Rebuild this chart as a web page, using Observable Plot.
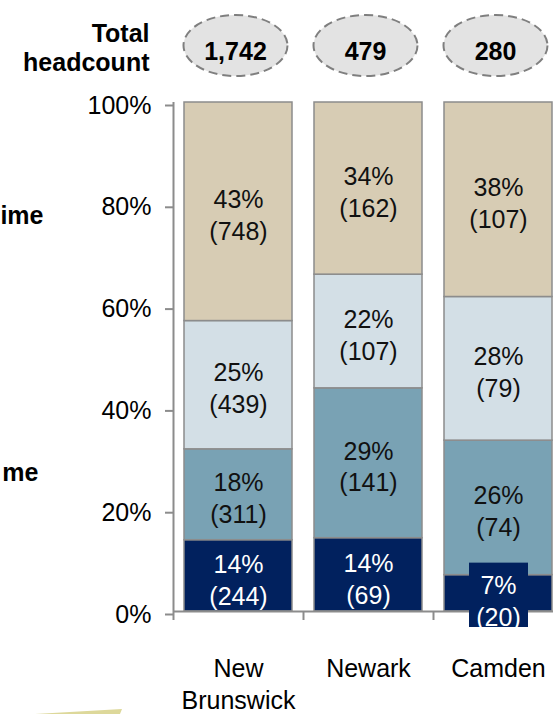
<!DOCTYPE html>
<html>
<head>
<meta charset="utf-8">
<script src="https://cdn.jsdelivr.net/npm/d3@7"></script>
<script src="https://cdn.jsdelivr.net/npm/@observablehq/plot@0.6"></script>
<style>
  html, body { margin: 0; padding: 0; background: #fff; }
  body { width: 553px; height: 714px; overflow: hidden; position: relative; }
  #chart svg { display: block; max-width: none !important; width: 563px !important; height: 714px !important; }
  #deco { position: absolute; left: 0; top: 0; pointer-events: none; }
</style>
</head>
<body>
<div id="chart"></div>
<svg id="deco" width="553" height="714"><polygon points="35,714 122,709 120,714" fill="#ddd89a"></polygon></svg>
<script>
// ---- data ----
const campuses = ["New Brunswick", "Newark", "Camden"];
const segments = ["Group 1", "Group 2", "Group 3", "Group 4"]; // bottom to top
const countsNewBrunswick = [244, 311, 439, 748];
const countsNewark = [69, 141, 107, 162];
const countsCamden = [20, 74, 79, 107];
const totals = [1742, 479, 280];
const yTicks = [0, 0.2, 0.4, 0.6, 0.8, 1];
const sideLabels = ["ime", "me"];
const headcountTitle = "Total\nheadcount";

// ---- styling ----
const segmentColors = ["#01215e", "#79a2b4", "#d3dfe6", "#d7ccb4"];
const gridGray = "#8c8c8c";
const font = "'Liberation Sans', Arial, sans-serif";

const countsByCampus = [countsNewBrunswick, countsNewark, countsCamden];
const rows = [];
campuses.forEach((c, i) => {
  let cum = 0;
  const total = totals[i];
  segments.forEach((s, j) => {
    const count = countsByCampus[i][j];
    const lo = cum / total;
    cum += count;
    const hi = cum / total;
    rows.push({campus: c, segment: s, count, total, lo, hi, mid: (lo + hi) / 2, share: count / total});
  });
});
const totalRows = campuses.map((c, i) => ({campus: c, total: totals[i]}));
const label = d => Math.round(d.share * 100) + "%\n(" + d.count + ")";
const small = d => d.share < 0.1;
const dark = d => d.segment === segments[0];

const ellipse = {
  draw(ctx) {
    const rx = 52, ry = 30.5, k = 0.5523;
    ctx.moveTo(rx, 0);
    ctx.bezierCurveTo(rx, k * ry, k * rx, ry, 0, ry);
    ctx.bezierCurveTo(-k * rx, ry, -rx, k * ry, -rx, 0);
    ctx.bezierCurveTo(-rx, -k * ry, -k * rx, -ry, 0, -ry);
    ctx.bezierCurveTo(k * rx, -ry, rx, -k * ry, rx, 0);
    ctx.closePath();
  }
};

const chart = Plot.plot({
  width: 563,
  height: 714,
  marginLeft: 173,
  marginRight: 0,
  marginTop: 102,
  marginBottom: 103,
  style: {fontFamily: font, fontSize: "25px", background: "#fff", color: "#000", overflow: "visible"},
  x: {domain: campuses, paddingInner: 0.17, paddingOuter: 0.085, axis: null},
  y: {domain: [0, 1], axis: null},
  color: {domain: segments, range: segmentColors},
  marks: [
    Plot.barY(rows, {x: "campus", y1: "lo", y2: "hi", fill: "segment", stroke: gridGray, strokeWidth: 1.5}),
    // y axis line and ticks
    Plot.ruleX([campuses[0]], {x: d => d, y1: 0, y2: 1, dx: -65, stroke: gridGray, strokeWidth: 2}),
    Plot.axisY({ticks: yTicks, tickFormat: d3.format(".0%"), tickSize: 8, tickPadding: 14, fontSize: 25, stroke: gridGray, strokeWidth: 2, label: null, dy: 3}),
    // x baseline and category boundary ticks
    Plot.ruleY([0], {stroke: gridGray, strokeWidth: 2}),
    Plot.ruleX(campuses, {x: d => d, y1: 0, y2: 0, dx: -65, insetBottom: -9, stroke: gridGray, strokeWidth: 2}),
    Plot.axisX({tickSize: 0, tickPadding: 43, fontSize: 25, lineHeight: 1.28, label: null,
      tickFormat: d => d.replace(" ", "\n")}),
    // label background box for segments too small to hold their label
    Plot.barY(rows.filter(small), {x: "campus", y1: "lo", y2: "hi", fill: segmentColors[0],
      insetTop: -12, insetBottom: -16, insetLeft: 25, insetRight: 24}),
    // segment labels
    Plot.text(rows.filter(d => !dark(d)), {x: "campus", y: "mid", dy: 2, text: label, fill: "#111", fontSize: 25, lineHeight: 1.28}),
    Plot.text(rows.filter(d => dark(d) && !small(d)), {x: "campus", y: "mid", dy: 3, text: label, fill: "#fff", fontSize: 25, lineHeight: 1.28}),
    Plot.text(rows.filter(d => dark(d) && small(d)), {x: "campus", y: "mid", dy: 6, text: label, fill: "#fff", fontSize: 25, lineHeight: 1.28}),
    // total headcount ellipses
    Plot.dot(totalRows, {x: "campus", frameAnchor: "top", dy: -57, dx: -3, symbol: ellipse, r: 10,
      fill: "#e3e3e3", stroke: "#7f7f7f", strokeWidth: 2, strokeDasharray: "9,5"}),
    Plot.text(totalRows, {x: "campus", frameAnchor: "top", lineAnchor: "middle", dy: -51, dx: -3, text: d => d3.format(",")(d.total),
      fontWeight: "bold", fontSize: 25, fill: "#000"}),
    Plot.text([headcountTitle], {text: d => d, frameAnchor: "top-left", lineAnchor: "middle", dx: -24, dy: -55, textAnchor: "end",
      fontWeight: "bold", fontSize: 25, lineHeight: 1.15, fill: "#000"}),
    // cropped side labels
    Plot.text([sideLabels[0]], {text: d => d, frameAnchor: "top-left", lineAnchor: "middle", dx: -130, dy: 113, textAnchor: "end",
      fontWeight: "bold", fontSize: 25, fill: "#000"}),
    Plot.text([sideLabels[1]], {text: d => d, frameAnchor: "top-left", lineAnchor: "middle", dx: -135, dy: 370, textAnchor: "end",
      fontWeight: "bold", fontSize: 25, fill: "#000"})
  ]
});
document.getElementById("chart").appendChild(chart);
</script>
</body>
</html>
